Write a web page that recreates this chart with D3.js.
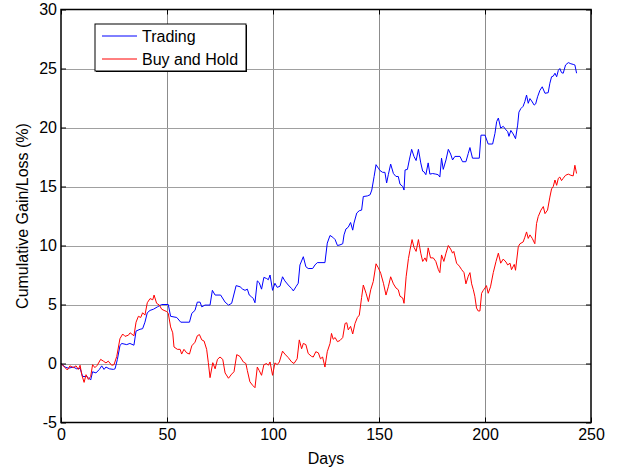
<!DOCTYPE html>
<html>
<head>
<meta charset="utf-8">
<script src="https://cdn.jsdelivr.net/npm/d3@7"></script>
<style>
  body { margin: 0; background: #fff; }
  svg text { font-family: "Liberation Sans", Arial, sans-serif; }
</style>
</head>
<body>
<div id="canvas"></div>
<script>
const w = 618, h = 468;
const margin = {left: 61, right: 27, top: 9.5, bottom: 45.5};

// values: [day, cumulative %]
const tradingDays = [0,1.9,3.5,5.8,7.4,9,10.2,12.1,12.9,14,14.9,16.5,18.1,19.2,20.3,21.2,22.8,24.7,25.5,26.6,27.8,28.6,31,32.5,34.4,35.4,37.3,38.5,39.6,40.7,42,43.6,45.5,47.5,50.6,51.7,54.6,56.5,60.6,61.7,63.2,64.3,65.6,66.4,67.9,70.3,71.4,72.7,75.3,77.4,79,80.5,82.6,84.5,85.7,86.8,87.9,88.8,89.9,90.7,91.5,92.6,93.5,94.6,95.7,97,97.8,98.6,99.8,100.9,102,103.3,104.5,105.6,107.2,108.8,109.6,110.8,111.9,112.7,114.3,115.5,116.6,118.7,119.8,120.9,124.5,125.6,126.9,128.2,129.3,130.4,131.6,132.9,133.5,134.4,135.5,136.6,137.6,138.2,139.5,140.7,141.8,142.6,144.5,145.8,146.6,147.7,148.6,149.7,150.5,151.7,152.8,153.6,154.4,155.5,156.8,158,159.1,159.9,161.2,161.8,162.3,163.4,164.3,165.4,166.5,167.5,168.6,169.7,170.6,171.2,172.1,173.2,174,175.3,176.8,177.9,178.7,179.5,180.3,181.6,182.7,183.8,184.7,185.8,188.2,189.4,191,192.1,192.9,194.1,197.3,198.1,200,201.5,203.6,204.7,205.5,206.3,207.4,208.6,209.9,210.7,211.3,212.2,213.3,214.4,215.4,216,216.9,218,218.8,219.6,220.4,221.2,222,223.2,223.9,224.8,225.9,227,228.3,229.8,230.6,231.4,232.2,233,233.8,234.6,235.3,236.1,236.9,238,239.3,240.5,241.6,242.4,243.2];
const tradingVals = [0,-0.3,-0.4,-0.3,-0.45,-0.4,-1.1,-1.1,-1.2,-1.4,-0.7,-0.8,-0.5,-0.2,-0.5,-0.3,-0.45,-0.5,-0.45,0.35,1.5,1.7,1.6,1.7,1.55,2.75,2.9,2.95,3.5,4.3,4.5,4.6,4.8,5,5,4,3.9,3.5,3.5,4.25,4.5,5.2,5.2,4.8,4.95,4.95,6.2,5.8,5.8,5.2,4.95,5.1,6.6,6.5,6.3,6.2,6.3,5.8,5.65,5.5,5.15,7,6.85,6.3,7.3,7.2,7.1,7.5,6.2,6.8,6.45,6.55,7.35,7,6.65,6.35,6.15,6.5,6.8,8.35,9.05,8.2,8.05,8.05,8.35,8.55,8.55,10.2,10.85,10.7,10.5,10,10.05,10.15,10.9,11.4,11.55,11.95,11.3,11.9,12.75,12.95,13,14.15,14.2,14.3,14.7,15.85,16.85,16.55,16.35,16.2,16.2,15.3,16,16.9,16.1,15.85,15.85,15.2,15,14.7,16.4,16.45,17.25,18.15,17.55,17.2,18.15,17,16.3,16.25,16,17,16.05,16.1,16.05,16,15.8,17.4,16.45,17.25,18.15,17.75,17.25,17.55,17.55,17.1,17.1,17.8,18.3,17.4,17.4,19.35,19.35,18.6,18.6,19.5,20.5,20.8,19.95,20.1,19.8,19.65,19.25,19.75,19.45,19.05,20.2,21.3,21.6,21.8,22.2,22.75,22.05,22.45,22.25,21.9,22,22.6,23.15,23.45,22.9,22.95,23.75,24.3,24.35,24.6,24.3,24.85,25,24.65,24.6,25.3,25.5,25.4,25.35,25.3,24.6];

const holdDays = [0,1.9,3,4.2,5.8,7.1,8.2,9,9.8,10.9,11.8,12.9,14,14.9,16,17.1,18.7,20,21.2,22.3,23.9,25,26.3,27.8,29.1,30.2,31.8,32.6,34.4,35.4,36.5,37.6,38.5,39.6,40.7,42,43.3,43.9,45.1,46.4,47.5,48.6,49.9,50.6,51.7,52.7,53.3,54.9,56.2,56.9,58,59.3,60.6,61.7,63.2,64.3,65.3,66.4,67.5,68.7,69.5,70.3,71.6,72.7,73.8,75,76.3,77.4,79,80.5,81.6,82.9,84.4,86,87.2,87.9,89.1,90.4,91.5,92.6,93.5,94.6,95.7,97,97.8,98.6,99.8,100.9,102,103,104.5,105.6,107.2,108.8,109.9,111.4,112.4,113.5,114.3,115.5,116.6,118.2,119,120.2,121.4,122.4,123.4,124.5,125.6,126.9,127.6,128.4,129.3,130.4,131.6,132.9,134,134.8,135.5,136.6,137.6,138.7,139.8,140.7,141.8,142.6,143.9,145,146.1,147.3,148.6,149.7,150.8,152.1,153.3,154.4,155.5,156.8,158,159.1,159.9,161.2,161.8,162.8,163.9,164.6,165.6,166.5,167.5,168.6,169.7,170.6,171.7,172.4,173.2,174.3,175.6,176.8,178,178.7,179.5,180.6,181.6,182.7,183.8,184.7,185.3,186.6,187.9,189,190.1,191,192.1,192.9,193.7,194.5,195.2,196,196.8,197.6,198.4,199.2,200,200.7,201.5,202.6,203.9,205.2,206.3,207.4,208.6,209.9,210.7,211.8,212.5,213.8,214.4,215.7,216.5,218,218.8,219.6,220.4,221.2,222.3,223.5,224.3,225.1,226.4,227.5,228.3,229.5,230.6,231.4,232.2,233,233.8,234.6,235.3,236.1,236.9,238,239.3,240.5,241.6,242.4,243.2];
const holdVals = [0,-0.35,-0.55,-0.2,-0.35,-0.2,-0.5,-0.15,-0.95,-1.6,-0.95,-1.35,-1.1,-0.1,-0.35,-0.15,0.35,0.2,0.05,0.2,-0.15,-0.1,0.6,2.1,2.5,2.3,2.4,2.6,2.35,3.5,4,3.9,4.3,4.1,5.15,5.5,5.4,5.8,5.1,4.95,4.6,4.5,4.4,4.25,3.1,2.6,1.4,1.2,1.2,0.8,1.2,0.9,0.8,1.5,1.8,2.35,2.45,2,1.9,1.2,0.07,-1.2,0.07,-0.45,0.35,0.55,0.35,-0.8,-1.25,-0.9,-0.7,0.75,0.6,0.13,0,-0.6,-1.55,-1.85,-2.05,-0.3,-0.6,-1,-0.1,0,-0.15,0.13,-1,0.05,-0.1,0.13,1.05,0.8,0.5,0.13,0,0.4,2,1.25,1.7,1.6,0.85,0.6,0.55,1,0.9,0.4,0.55,-0.3,1,1.7,2.55,2.05,2.2,1.85,1.95,2.2,3.4,3.45,2.85,3.15,2.5,3.4,3.9,4.1,5.6,6.65,5.95,5.25,6.25,6.95,8.45,8.1,7.65,6.8,5.8,6.5,7.35,6.75,6.4,6.25,5.7,5.55,5.1,7.35,8.9,9.6,10.5,9.85,9.5,10.5,9.35,8.65,8.95,8.65,9.8,8.95,8.95,8.65,7.95,7.7,9.2,8.65,9.35,10,9.7,9.35,9.5,8.5,8.25,7.95,7.7,6.75,7.4,7.7,6.75,6.25,5.7,4.7,4.45,4.45,5.95,6.2,6.4,6.6,5.95,6.5,7.7,8.65,9.35,8.5,8.85,8.6,8.35,8.5,7.95,8.4,7.9,9.9,10.15,10.3,10.7,11.15,10.6,10.9,10.6,10.15,11.85,12.45,13,13.3,12.7,13,14.1,14.8,15,15.55,15.1,15.7,15.8,15.5,15.7,15.95,16.05,15.95,15.9,16.8,16.1];

const xTicks = [0, 50, 100, 150, 200, 250];
const yTicks = [-5, 0, 5, 10, 15, 20, 25, 30];
const seriesNames = ["Trading", "Buy and Hold"];
const seriesColors = ["#0000ff", "#ff0000"];
const fontSize = 16;

let svg = d3.select("#canvas")
            .append("svg")
                .attr("width", w)
                .attr("height", h);

const pw = w - margin.left - margin.right;
const ph = h - margin.top - margin.bottom;

const x = d3.scaleLinear().domain([0, 250]).range([margin.left, margin.left + pw]);
const y = d3.scaleLinear().domain([-5, 30]).range([margin.top + ph, margin.top]);

// grid
const grid = svg.append("g").attr("stroke", "#8c8c8c").attr("stroke-width", 1);
grid.selectAll(".gx").data(xTicks.slice(1, -1)).enter().append("line")
    .attr("x1", d => Math.round(x(d)) + 0.5).attr("x2", d => Math.round(x(d)) + 0.5)
    .attr("y1", margin.top).attr("y2", margin.top + ph);
grid.selectAll(".gy").data(yTicks.slice(1, -1)).enter().append("line")
    .attr("y1", d => Math.round(y(d)) + 0.5).attr("y2", d => Math.round(y(d)) + 0.5)
    .attr("x1", margin.left).attr("x2", margin.left + pw)
    .attr("stroke", "#a0a0a0");

// series
const line = d3.line().x(d => x(d[0])).y(d => y(d[1]));
const series = [d3.zip(tradingDays, tradingVals), d3.zip(holdDays, holdVals)];
svg.append("g").selectAll("path").data(series).enter().append("path")
    .attr("d", line)
    .attr("fill", "none")
    .attr("stroke", (d, i) => seriesColors[i])
    .attr("stroke-width", 1);

// axes, ticks pointing inward like the original
function styleAxis(g) {
    g.select(".domain").remove();
    g.selectAll("text").attr("font-size", fontSize).attr("fill", "#000")
        .style("font-family", '"Liberation Sans", Arial, sans-serif');
    g.selectAll("line").attr("stroke", "#000");
}
const plain = d => String(d);
svg.append("g").attr("transform", "translate(" + margin.left + ",0)")
    .call(d3.axisLeft(y).tickValues(yTicks).tickSize(-5).tickPadding(4).tickFormat(plain))
    .call(styleAxis);
svg.append("g").attr("transform", "translate(" + (margin.left + pw) + ",0)")
    .call(d3.axisRight(y).tickValues(yTicks).tickSize(-5).tickFormat(""))
    .call(styleAxis);
svg.append("g").attr("transform", "translate(0," + (margin.top + ph) + ")")
    .call(d3.axisBottom(x).tickValues(xTicks).tickSize(-5).tickPadding(6).tickFormat(plain))
    .call(styleAxis);
svg.append("g").attr("transform", "translate(0," + margin.top + ")")
    .call(d3.axisTop(x).tickValues(xTicks).tickSize(-5).tickFormat(""))
    .call(styleAxis);

svg.append("rect")
    .attr("x", margin.left).attr("y", margin.top)
    .attr("width", pw).attr("height", ph)
    .attr("fill", "none").attr("stroke", "#000").attr("stroke-width", 1.5);

// axis titles
svg.append("text")
    .attr("x", margin.left + pw / 2).attr("y", 464)
    .attr("text-anchor", "middle").attr("font-size", fontSize)
    .text("Days");
svg.append("text")
    .attr("transform", "translate(28," + (margin.top + ph / 2) + ") rotate(-90)")
    .attr("text-anchor", "middle").attr("font-size", fontSize)
    .text("Cumulative Gain/Loss (%)");

// legend
const lg = svg.append("g").attr("transform", "translate(95,24)");
lg.append("rect").attr("x", 1).attr("y", 1).attr("width", 151).attr("height", 47)
    .attr("fill", "#000");
lg.append("rect").attr("width", 151).attr("height", 47)
    .attr("fill", "#fff").attr("stroke", "#000").attr("stroke-width", 1);
seriesNames.forEach((name, i) => {
    const yy = 12 + i * 23;
    lg.append("line").attr("x1", 7).attr("x2", 42).attr("y1", yy).attr("y2", yy)
        .attr("stroke", seriesColors[i]).attr("stroke-width", 1);
    lg.append("text").attr("x", 47).attr("y", yy + 6).attr("font-size", fontSize)
        .text(name);
});
</script>
</body>
</html>
